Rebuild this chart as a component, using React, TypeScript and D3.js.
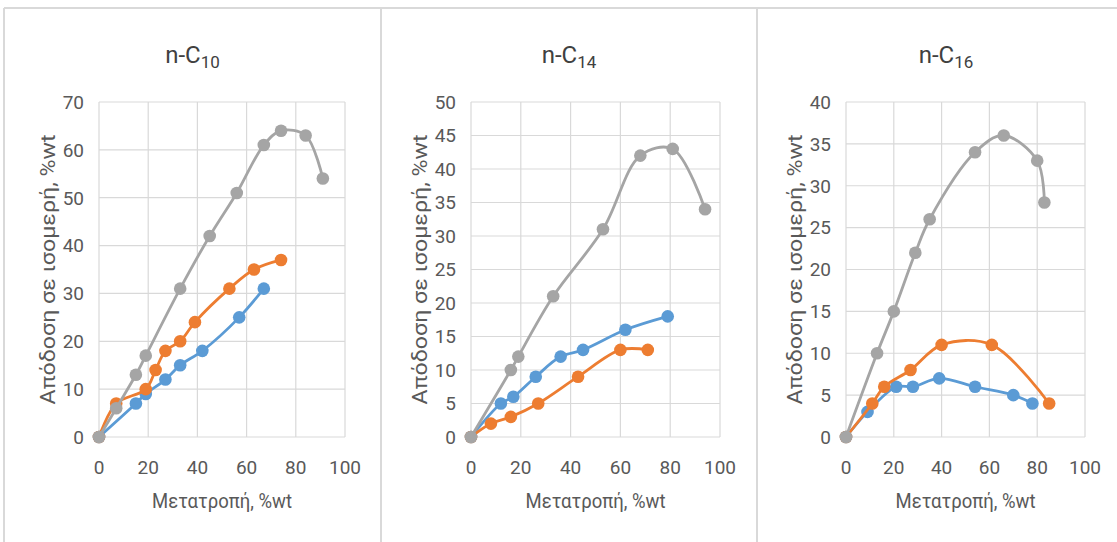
import React from 'react';
import * as d3 from 'd3';

// x ticks shared by all three panels
const xTicks = [0, 20, 40, 60, 80, 100];

const titleSubs = ['10', '14', '16'];
const yMaxes = [70, 50, 40];
const ySteps = [10, 5, 5];

// n-C10
const c10Blue = [[0, 0], [15, 7], [19, 9], [27, 12], [33, 15], [42, 18], [57, 25], [67, 31]];
const c10Orange = [[0, 0], [7, 7], [19, 10], [23, 14], [27, 18], [33, 20], [39, 24], [53, 31], [63, 35], [74, 37]];
const c10Gray = [[0, 0], [7, 6], [15, 13], [19, 17], [33, 31], [45, 42], [56, 51], [67, 61], [74, 64], [84, 63], [91, 54]];

// n-C14
const c14Blue = [[0, 0], [12, 5], [17, 6], [26, 9], [36, 12], [45, 13], [62, 16], [79, 18]];
const c14Orange = [[0, 0], [8, 2], [16, 3], [27, 5], [43, 9], [60, 13], [71, 13]];
const c14Gray = [[0, 0], [16, 10], [19, 12], [33, 21], [53, 31], [68, 42], [81, 43], [94, 34]];

// n-C16
const c16Blue = [[0, 0], [9, 3], [21, 6], [28, 6], [39, 7], [54, 6], [70, 5], [78, 4]];
const c16Orange = [[0, 0], [11, 4], [16, 6], [27, 8], [40, 11], [61, 11], [85, 4]];
const c16Gray = [[0, 0], [13, 10], [20, 15], [29, 22], [35, 26], [54, 34], [66, 36], [80, 33], [83, 28]];

const panelSeries = [
  [c10Blue, c10Orange, c10Gray],
  [c14Blue, c14Orange, c14Gray],
  [c16Blue, c16Orange, c16Gray],
];
const colors = ['#5B9BD5', '#ED7D31', '#A5A5A5'];

const W = 1117;
const H = 542;
const font = "'Liberation Sans Narrow', 'Arial Narrow', Roboto, sans-serif";
const textColor = '#595959';
const gridColor = '#d9d9d9';

// layout of each panel: [panel left, panel right, plot left, plot right]
const layout = [
  [4, 381, 99, 345],
  [381, 757, 471, 720],
  [757, 1135, 846, 1085],
];
const plotTop = 102;
const plotBottom = 437;

function Panel({ idx }: { idx: number }) {
  const [pl, pr, x0, x1] = layout[idx];
  const x = d3.scaleLinear().domain([0, 100]).range([x0, x1]);
  const y = d3.scaleLinear().domain([0, yMaxes[idx]]).range([plotBottom, plotTop]);
  const yTicks = d3.range(0, yMaxes[idx] + 0.001, ySteps[idx]);
  const line = d3
    .line<number[]>()
    .x(d => x(d[0]))
    .y(d => y(d[1]))
    .curve(d3.curveCatmullRom.alpha(0.5));
  const cx = (pl + pr) / 2;
  const midX = (x0 + x1) / 2;
  const midY = (plotTop + plotBottom) / 2;

  return (
    <g>
      {/* title */}
      <text x={cx} y={63} textAnchor="middle" fontFamily={font} fontSize={24} fill="#404040">
        n-C<tspan fontSize={17} dy={5}>{titleSubs[idx]}</tspan>
      </text>

      {/* grid */}
      {yTicks.map(t => (
        <line key={'gy' + t} x1={x0} x2={x1} y1={y(t)} y2={y(t)} stroke={gridColor} strokeWidth={1.2} />
      ))}
      {xTicks.map(t => (
        <line key={'gx' + t} x1={x(t)} x2={x(t)} y1={plotTop} y2={plotBottom} stroke={gridColor} strokeWidth={1.2} />
      ))}

      {/* tick labels */}
      {yTicks.map(t => (
        <text key={'ty' + t} x={x0 - 15} y={y(t)} dy="0.36em" textAnchor="end"
          fontFamily={font} fontSize={19} fill={textColor}>{t}</text>
      ))}
      {xTicks.map(t => (
        <text key={'tx' + t} x={x(t)} y={474} textAnchor="middle"
          fontFamily={font} fontSize={19} fill={textColor}>{t}</text>
      ))}

      {/* axis titles */}
      <text x={midX} y={508} textAnchor="middle" fontFamily={font} fontSize={20} fill={textColor}
        textLength={140} lengthAdjust="spacingAndGlyphs">
        Μετατροπή, %wt
      </text>
      <text transform={`translate(${x0 - 44},${midY}) rotate(-90)`} textAnchor="middle"
        fontFamily={font} fontSize={21} fill={textColor} textLength={270} lengthAdjust="spacingAndGlyphs">
        Απόδοση σε ισομερή, %wt
      </text>

      {/* series */}
      {panelSeries[idx].map((s, i) => (
        <g key={'s' + i}>
          <path d={line(s) || ''} fill="none" stroke={colors[i]} strokeWidth={2.8} />
          {s.map((d, j) => (
            <circle key={j} cx={x(d[0])} cy={y(d[1])} r={6.3} fill={colors[i]} />
          ))}
        </g>
      ))}
    </g>
  );
}

export default function App() {
  return (
    <svg width={W} height={H} style={{ position: 'absolute', left: 0, top: 0, background: '#fff' }}>
      <rect x={0} y={0} width={W} height={H} fill="#fff" />
      <line x1={4} x2={W} y1={8} y2={8} stroke={gridColor} strokeWidth={2} />
      <line x1={4} x2={4} y1={8} y2={H} stroke={gridColor} strokeWidth={2} />
      <line x1={381} x2={381} y1={8} y2={H} stroke={gridColor} strokeWidth={2} />
      <line x1={757} x2={757} y1={8} y2={H} stroke={gridColor} strokeWidth={2} />
      {[0, 1, 2].map(i => <Panel key={i} idx={i} />)}
    </svg>
  );
}
